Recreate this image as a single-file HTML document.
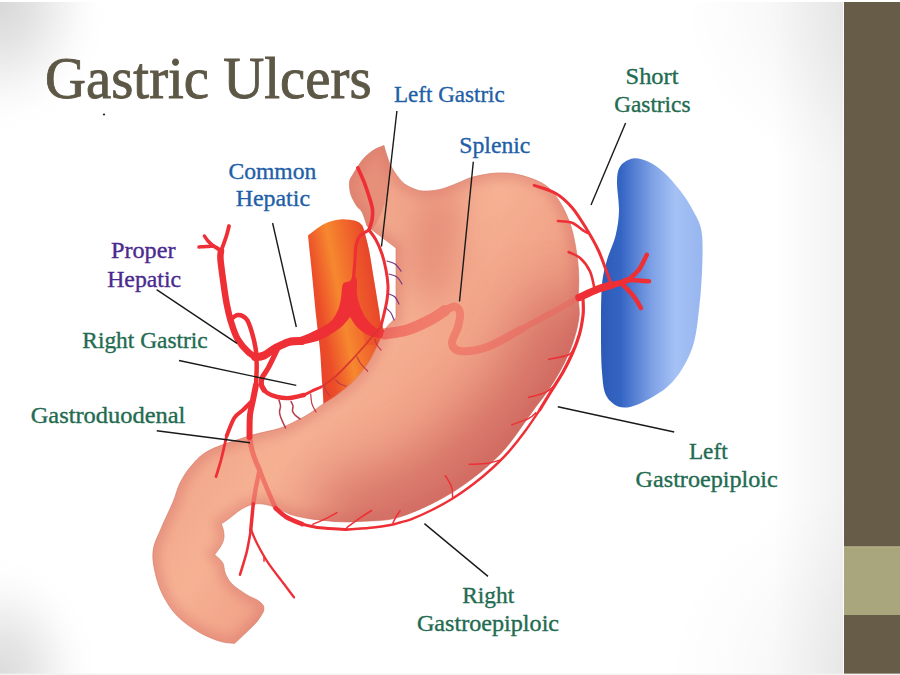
<!DOCTYPE html>
<html lang="en"><head><meta charset="utf-8"><title>Gastric Ulcers</title>
<style>
html,body{margin:0;padding:0;background:#fff;}
body{width:900px;height:675px;overflow:hidden;position:relative;font-family:"Liberation Serif",serif;}
svg{position:absolute;left:0;top:0;display:block;}
text{font-family:"Liberation Serif",serif;}
</style></head><body>
<svg width="900" height="675" viewBox="0 0 900 675">
<defs>
<radialGradient id="bgTL" gradientUnits="userSpaceOnUse" cx="0" cy="0" r="112" gradientTransform="translate(0 0) scale(1 1.2321) translate(-0 -0)"><stop offset="0" stop-color="#000" stop-opacity="0.157"/><stop offset="0.3" stop-color="#000" stop-opacity="0.11"/><stop offset="0.55" stop-color="#000" stop-opacity="0.055"/><stop offset="0.7" stop-color="#000" stop-opacity="0.024"/><stop offset="0.85" stop-color="#000" stop-opacity="0.005"/><stop offset="1" stop-color="#000" stop-opacity="0"/></radialGradient>
<radialGradient id="bgBL" gradientUnits="userSpaceOnUse" cx="0" cy="675" r="100" gradientTransform="translate(0 675) scale(1 1.2200) translate(-0 -675)"><stop offset="0" stop-color="#000" stop-opacity="0.14"/><stop offset="0.3" stop-color="#000" stop-opacity="0.1"/><stop offset="0.55" stop-color="#000" stop-opacity="0.05"/><stop offset="0.7" stop-color="#000" stop-opacity="0.022"/><stop offset="0.85" stop-color="#000" stop-opacity="0.005"/><stop offset="1" stop-color="#000" stop-opacity="0"/></radialGradient>
<radialGradient id="bgTR" gradientUnits="userSpaceOnUse" cx="900" cy="0" r="218" gradientTransform="translate(900 0) scale(1 0.8440) translate(-900 -0)"><stop offset="0" stop-color="#000" stop-opacity="0.095"/><stop offset="0.28" stop-color="#000" stop-opacity="0.055"/><stop offset="0.5" stop-color="#000" stop-opacity="0.038"/><stop offset="0.75" stop-color="#000" stop-opacity="0.015"/><stop offset="1" stop-color="#000" stop-opacity="0"/></radialGradient>
<radialGradient id="bgBR" gradientUnits="userSpaceOnUse" cx="900" cy="675" r="234" gradientTransform="translate(900 675) scale(1 0.8419) translate(-900 -675)"><stop offset="0" stop-color="#000" stop-opacity="0.08"/><stop offset="0.28" stop-color="#000" stop-opacity="0.045"/><stop offset="0.5" stop-color="#000" stop-opacity="0.03"/><stop offset="0.75" stop-color="#000" stop-opacity="0.012"/><stop offset="1" stop-color="#000" stop-opacity="0"/></radialGradient>
<linearGradient id="gst" gradientUnits="userSpaceOnUse" x1="330" y1="250" x2="580" y2="450">
<stop offset="0" stop-color="#F0A489"/><stop offset="0.3" stop-color="#F6B193"/><stop offset="0.52" stop-color="#F1A388"/><stop offset="0.78" stop-color="#E48A76"/><stop offset="1" stop-color="#DA766A"/>
</linearGradient>
<linearGradient id="gsp" gradientUnits="userSpaceOnUse" x1="600" y1="0" x2="705" y2="0">
<stop offset="0" stop-color="#2B59B6"/><stop offset="0.2" stop-color="#3565C4"/><stop offset="0.5" stop-color="#7FA2E6"/><stop offset="0.72" stop-color="#A5C1F5"/><stop offset="1" stop-color="#96B5EE"/>
</linearGradient>
<linearGradient id="gao" gradientUnits="userSpaceOnUse" x1="300" y1="300" x2="388" y2="283">
<stop offset="0.04" stop-color="#E8402A"/><stop offset="0.2" stop-color="#EC4E29"/><stop offset="0.44" stop-color="#F6882F"/><stop offset="0.7" stop-color="#EF602A"/><stop offset="0.86" stop-color="#E8472A"/>
</linearGradient>
<linearGradient id="gtr" gradientUnits="userSpaceOnUse" x1="240" y1="0" x2="580" y2="0">
<stop offset="0" stop-color="#EC3F40" stop-opacity="0.5"/><stop offset="0.42" stop-color="#EC3F40" stop-opacity="0.55"/><stop offset="0.62" stop-color="#EE4A48" stop-opacity="0.42"/><stop offset="1" stop-color="#F05A55" stop-opacity="0.34"/>
</linearGradient>
<linearGradient id="gsh" gradientUnits="userSpaceOnUse" x1="772" y1="0" x2="844" y2="0">
<stop offset="0" stop-color="#000" stop-opacity="0"/><stop offset="1" stop-color="#000" stop-opacity="0.05"/>
</linearGradient>
<clipPath id="cst"><path d="M384.0 145.5 C384.4 147.1 385.4 151.2 386.7 155.0 C388.0 158.8 389.4 163.6 392.0 168.0 C394.6 172.4 398.7 178.4 402.0 181.7 C405.3 185.0 408.5 186.4 412.0 188.0 C415.5 189.6 418.3 190.8 423.0 191.0 C427.7 191.2 434.2 190.7 440.0 189.4 C445.8 188.1 452.5 185.1 458.0 183.0 C463.5 180.9 466.5 178.7 473.0 177.0 C479.5 175.3 489.2 173.3 497.0 173.0 C504.8 172.7 512.0 173.0 520.0 175.0 C528.0 177.0 538.3 180.4 545.0 185.0 C551.7 189.6 556.0 195.8 560.3 202.7 C564.6 209.6 568.2 217.7 571.0 226.4 C573.8 235.1 575.6 246.1 576.9 254.8 C578.2 263.5 578.6 271.3 578.8 278.5 C579.0 285.7 578.2 291.8 578.3 298.0 C578.4 304.2 579.7 309.5 579.2 315.6 C578.7 321.7 577.1 328.2 575.4 334.5 C573.7 340.8 571.5 347.2 568.8 353.5 C566.1 359.8 562.9 366.2 559.3 372.5 C555.7 378.8 551.8 385.2 547.4 391.5 C543.0 397.8 539.7 401.5 533.2 410.4 C526.7 419.2 515.5 436.0 508.6 444.6 C501.7 453.2 497.9 456.7 492.0 462.2 C486.1 467.7 480.0 472.8 473.4 477.8 C466.8 482.8 459.5 488.0 452.6 492.3 C445.7 496.6 438.8 500.2 431.9 503.7 C425.0 507.1 417.9 510.4 411.0 513.0 C404.1 515.6 398.2 517.9 390.4 519.3 C382.6 520.7 372.8 520.8 364.4 521.2 C356.0 521.6 348.9 522.2 340.0 521.8 C331.1 521.4 318.8 520.0 311.0 518.9 C303.2 517.8 297.8 516.5 293.3 515.3 C288.8 514.1 287.3 512.9 284.0 511.5 C280.7 510.1 276.9 507.9 273.3 506.7 C269.8 505.4 266.2 504.4 262.7 504.0 C259.1 503.6 255.6 503.6 252.0 504.5 C248.4 505.4 244.9 507.2 241.3 509.3 C237.8 511.4 234.0 514.8 230.7 517.3 C227.4 519.8 222.9 522.9 221.3 524.0 C221.6 524.9 222.8 527.1 223.2 529.3 C223.6 531.5 224.3 534.6 224.0 537.3 C223.7 540.0 222.9 542.4 221.3 545.3 C219.8 548.2 215.8 553.1 214.7 554.7 C216.0 556.0 220.9 559.6 222.7 562.7 C224.5 565.8 223.8 569.8 225.3 573.3 C226.9 576.8 228.4 580.4 232.0 584.0 C235.6 587.6 242.4 592.0 246.7 594.7 C251.0 597.5 255.2 598.6 258.0 600.5 C260.8 602.4 262.6 604.2 263.5 606.0 C264.4 607.8 263.5 610.6 263.5 611.5 C262.5 613.1 260.1 617.9 257.3 621.3 C254.5 624.7 250.5 628.3 246.7 632.0 C242.9 635.7 236.5 641.6 234.5 643.5 C232.1 643.1 226.0 643.2 220.0 641.3 C214.0 639.4 205.8 636.2 198.7 632.0 C191.6 627.8 183.3 622.2 177.3 616.0 C171.3 609.8 166.5 602.2 162.7 594.7 C158.9 587.2 156.3 578.3 154.7 570.7 C153.1 563.1 152.2 556.4 153.3 549.3 C154.4 542.2 158.0 536.0 161.3 528.0 C164.6 520.0 170.2 508.8 173.3 501.3 C176.4 493.8 176.9 489.1 180.0 483.0 C183.1 476.9 187.0 470.5 192.0 465.0 C197.0 459.5 200.3 454.9 210.0 450.0 C219.7 445.1 238.5 439.4 250.0 435.8 C261.5 432.2 271.3 431.0 279.0 428.5 C286.7 426.0 290.8 423.6 296.0 421.0 C301.2 418.4 305.6 415.9 310.0 413.2 C314.4 410.4 318.1 407.4 322.4 404.5 C326.7 401.6 330.5 399.8 335.6 396.0 C340.7 392.2 347.7 387.1 353.0 381.8 C358.3 376.5 363.4 370.2 367.6 364.0 C371.8 357.8 375.3 349.7 378.0 344.4 C380.7 339.1 381.8 335.3 383.6 332.0 C385.4 328.7 386.9 326.8 389.0 324.5 C391.1 322.2 394.8 319.1 396.0 318.0 L396.0 248.0 L367.0 226.0 C366.2 223.7 363.7 215.3 362.0 212.0 C360.3 208.7 358.5 208.8 356.7 206.0 C354.9 203.2 352.2 198.5 351.0 195.0 C349.8 191.5 349.6 187.6 349.4 185.0 C349.2 182.4 349.9 180.3 350.0 179.4 C352.0 176.2 358.2 165.3 362.0 160.5 C365.8 155.7 369.3 153.0 373.0 150.5 C376.7 148.0 382.2 146.3 384.0 145.5Z"/></clipPath>
<filter id="blur12" filterUnits="userSpaceOnUse" x="100" y="100" width="560" height="580"><feGaussianBlur stdDeviation="27"/></filter>
<filter id="blur16" filterUnits="userSpaceOnUse" x="100" y="100" width="560" height="580"><feGaussianBlur stdDeviation="16"/></filter>
<filter id="blur5" filterUnits="userSpaceOnUse" x="100" y="100" width="560" height="580"><feGaussianBlur stdDeviation="5"/></filter>
</defs>
<rect x="0" y="0" width="900" height="675" fill="#ffffff"/>
<rect x="0" y="0" width="120" height="145" fill="url(#bgTL)"/>
<rect x="0" y="545" width="110" height="130" fill="url(#bgBL)"/>
<rect x="670" y="0" width="230" height="190" fill="url(#bgTR)"/>
<rect x="660" y="470" width="240" height="205" fill="url(#bgBR)"/>
<rect x="772" y="0" width="72" height="675" fill="url(#gsh)"/>
<rect x="0" y="0" width="900" height="2" fill="#ffffff"/>
<rect x="844" y="2" width="56" height="673" fill="#675C47"/>
<rect x="844" y="546.5" width="56" height="68.5" fill="#A9A67D"/>
<rect x="843" y="2" width="1" height="672" fill="#ffffff" opacity="0.85"/>
<rect x="844" y="546.5" width="56" height="1" fill="#B9B68F"/>
<rect x="0" y="673.6" width="900" height="1.4" fill="#f2f2f2"/>

<path d="M308.0 235.5 C310.7 233.6 318.7 226.7 324.0 224.0 C329.3 221.3 334.7 220.0 340.0 219.5 C345.3 219.0 352.3 220.1 356.0 221.0 C359.7 221.9 361.0 224.3 362.0 225.0 C362.3 225.8 362.8 225.8 364.0 230.0 C365.2 234.2 367.3 241.7 369.0 250.0 C370.7 258.3 372.3 270.0 374.0 280.0 C375.7 290.0 377.7 302.3 379.0 310.0 C380.3 317.7 379.8 320.2 382.0 326.0 C384.2 331.8 390.3 341.8 392.0 345.0 L380.0 420.0 L323.5 420.0 C323.5 416.8 323.6 407.5 323.3 401.0 C323.1 394.5 322.6 389.5 322.0 381.0 C321.4 372.5 320.9 360.3 320.0 350.0 C319.1 339.7 317.8 332.0 316.4 319.0 C315.0 306.0 313.2 285.9 311.8 272.0 C310.4 258.1 308.6 241.6 308.0 235.5Z" fill="url(#gao)"/>
<path d="M362.0 225.0 C362.3 225.8 362.8 225.8 364.0 230.0 C365.2 234.2 367.3 241.7 369.0 250.0 C370.7 258.3 372.3 270.0 374.0 280.0 C375.7 290.0 377.7 302.3 379.0 310.0 C380.3 317.7 379.8 320.2 382.0 326.0 C384.2 331.8 390.3 341.8 392.0 345.0 L366.0 345.0 C364.5 337.5 358.8 314.2 357.0 300.0 C355.2 285.8 354.2 272.5 355.0 260.0 C355.8 247.5 360.8 230.8 362.0 225.0Z" fill="#E8452A" opacity="0.35"/>
<path d="M633.0 158.5 C637.6 157.8 642.8 159.2 648.0 161.5 C653.2 163.8 658.6 167.6 664.0 172.5 C669.4 177.4 675.7 184.7 680.5 191.0 C685.3 197.3 689.5 203.8 693.0 210.5 C696.5 217.2 700.0 222.0 701.5 231.0 C703.0 240.0 702.6 252.0 702.3 264.5 C701.9 277.0 701.0 292.2 699.4 306.0 C697.8 319.8 696.7 335.0 692.4 347.4 C688.1 359.8 680.9 372.0 673.7 380.6 C666.5 389.2 657.3 394.5 649.0 399.0 C640.7 403.5 631.0 407.9 624.0 407.6 C617.0 407.3 610.7 402.9 607.0 397.0 C603.3 391.1 603.0 383.7 602.0 372.0 C601.0 360.3 601.0 341.2 601.0 326.7 C601.0 312.2 601.0 296.1 602.0 285.0 C603.0 273.9 604.7 268.3 607.0 260.0 C609.3 251.7 613.6 243.7 615.6 235.4 C617.6 227.2 618.8 219.5 619.0 210.5 C619.2 201.5 616.8 188.9 617.0 181.5 C617.2 174.1 617.8 169.8 620.5 166.0 C623.2 162.2 628.4 159.2 633.0 158.5Z" fill="url(#gsp)"/>
<path d="M384.0 145.5 C384.4 147.1 385.4 151.2 386.7 155.0 C388.0 158.8 389.4 163.6 392.0 168.0 C394.6 172.4 398.7 178.4 402.0 181.7 C405.3 185.0 408.5 186.4 412.0 188.0 C415.5 189.6 418.3 190.8 423.0 191.0 C427.7 191.2 434.2 190.7 440.0 189.4 C445.8 188.1 452.5 185.1 458.0 183.0 C463.5 180.9 466.5 178.7 473.0 177.0 C479.5 175.3 489.2 173.3 497.0 173.0 C504.8 172.7 512.0 173.0 520.0 175.0 C528.0 177.0 538.3 180.4 545.0 185.0 C551.7 189.6 556.0 195.8 560.3 202.7 C564.6 209.6 568.2 217.7 571.0 226.4 C573.8 235.1 575.6 246.1 576.9 254.8 C578.2 263.5 578.6 271.3 578.8 278.5 C579.0 285.7 578.2 291.8 578.3 298.0 C578.4 304.2 579.7 309.5 579.2 315.6 C578.7 321.7 577.1 328.2 575.4 334.5 C573.7 340.8 571.5 347.2 568.8 353.5 C566.1 359.8 562.9 366.2 559.3 372.5 C555.7 378.8 551.8 385.2 547.4 391.5 C543.0 397.8 539.7 401.5 533.2 410.4 C526.7 419.2 515.5 436.0 508.6 444.6 C501.7 453.2 497.9 456.7 492.0 462.2 C486.1 467.7 480.0 472.8 473.4 477.8 C466.8 482.8 459.5 488.0 452.6 492.3 C445.7 496.6 438.8 500.2 431.9 503.7 C425.0 507.1 417.9 510.4 411.0 513.0 C404.1 515.6 398.2 517.9 390.4 519.3 C382.6 520.7 372.8 520.8 364.4 521.2 C356.0 521.6 348.9 522.2 340.0 521.8 C331.1 521.4 318.8 520.0 311.0 518.9 C303.2 517.8 297.8 516.5 293.3 515.3 C288.8 514.1 287.3 512.9 284.0 511.5 C280.7 510.1 276.9 507.9 273.3 506.7 C269.8 505.4 266.2 504.4 262.7 504.0 C259.1 503.6 255.6 503.6 252.0 504.5 C248.4 505.4 244.9 507.2 241.3 509.3 C237.8 511.4 234.0 514.8 230.7 517.3 C227.4 519.8 222.9 522.9 221.3 524.0 C221.6 524.9 222.8 527.1 223.2 529.3 C223.6 531.5 224.3 534.6 224.0 537.3 C223.7 540.0 222.9 542.4 221.3 545.3 C219.8 548.2 215.8 553.1 214.7 554.7 C216.0 556.0 220.9 559.6 222.7 562.7 C224.5 565.8 223.8 569.8 225.3 573.3 C226.9 576.8 228.4 580.4 232.0 584.0 C235.6 587.6 242.4 592.0 246.7 594.7 C251.0 597.5 255.2 598.6 258.0 600.5 C260.8 602.4 262.6 604.2 263.5 606.0 C264.4 607.8 263.5 610.6 263.5 611.5 C262.5 613.1 260.1 617.9 257.3 621.3 C254.5 624.7 250.5 628.3 246.7 632.0 C242.9 635.7 236.5 641.6 234.5 643.5 C232.1 643.1 226.0 643.2 220.0 641.3 C214.0 639.4 205.8 636.2 198.7 632.0 C191.6 627.8 183.3 622.2 177.3 616.0 C171.3 609.8 166.5 602.2 162.7 594.7 C158.9 587.2 156.3 578.3 154.7 570.7 C153.1 563.1 152.2 556.4 153.3 549.3 C154.4 542.2 158.0 536.0 161.3 528.0 C164.6 520.0 170.2 508.8 173.3 501.3 C176.4 493.8 176.9 489.1 180.0 483.0 C183.1 476.9 187.0 470.5 192.0 465.0 C197.0 459.5 200.3 454.9 210.0 450.0 C219.7 445.1 238.5 439.4 250.0 435.8 C261.5 432.2 271.3 431.0 279.0 428.5 C286.7 426.0 290.8 423.6 296.0 421.0 C301.2 418.4 305.6 415.9 310.0 413.2 C314.4 410.4 318.1 407.4 322.4 404.5 C326.7 401.6 330.5 399.8 335.6 396.0 C340.7 392.2 347.7 387.1 353.0 381.8 C358.3 376.5 363.4 370.2 367.6 364.0 C371.8 357.8 375.3 349.7 378.0 344.4 C380.7 339.1 381.8 335.3 383.6 332.0 C385.4 328.7 386.9 326.8 389.0 324.5 C391.1 322.2 394.8 319.1 396.0 318.0 L396.0 248.0 L367.0 226.0 C366.2 223.7 363.7 215.3 362.0 212.0 C360.3 208.7 358.5 208.8 356.7 206.0 C354.9 203.2 352.2 198.5 351.0 195.0 C349.8 191.5 349.6 187.6 349.4 185.0 C349.2 182.4 349.9 180.3 350.0 179.4 C352.0 176.2 358.2 165.3 362.0 160.5 C365.8 155.7 369.3 153.0 373.0 150.5 C376.7 148.0 382.2 146.3 384.0 145.5Z" fill="url(#gst)"/>
<path d="M384.0 145.5 C384.4 147.1 385.4 151.2 386.7 155.0 C388.0 158.8 389.4 163.6 392.0 168.0 C394.6 172.4 398.7 178.4 402.0 181.7 C405.3 185.0 408.5 186.4 412.0 188.0 C415.5 189.6 418.3 190.8 423.0 191.0 C427.7 191.2 434.2 190.7 440.0 189.4 C445.8 188.1 452.5 185.1 458.0 183.0 C463.5 180.9 466.5 178.7 473.0 177.0 C479.5 175.3 489.2 173.3 497.0 173.0 C504.8 172.7 512.0 173.0 520.0 175.0 C528.0 177.0 538.3 180.4 545.0 185.0 C551.7 189.6 556.0 195.8 560.3 202.7 C564.6 209.6 568.2 217.7 571.0 226.4 C573.8 235.1 575.6 246.1 576.9 254.8 C578.2 263.5 578.6 271.3 578.8 278.5 C579.0 285.7 578.2 291.8 578.3 298.0 C578.4 304.2 579.7 309.5 579.2 315.6 C578.7 321.7 577.1 328.2 575.4 334.5 C573.7 340.8 571.5 347.2 568.8 353.5 C566.1 359.8 562.9 366.2 559.3 372.5 C555.7 378.8 551.8 385.2 547.4 391.5 C543.0 397.8 539.7 401.5 533.2 410.4 C526.7 419.2 515.5 436.0 508.6 444.6 C501.7 453.2 497.9 456.7 492.0 462.2 C486.1 467.7 480.0 472.8 473.4 477.8 C466.8 482.8 459.5 488.0 452.6 492.3 C445.7 496.6 438.8 500.2 431.9 503.7 C425.0 507.1 417.9 510.4 411.0 513.0 C404.1 515.6 398.2 517.9 390.4 519.3 C382.6 520.7 372.8 520.8 364.4 521.2 C356.0 521.6 348.9 522.2 340.0 521.8 C331.1 521.4 318.8 520.0 311.0 518.9 C303.2 517.8 297.8 516.5 293.3 515.3 C288.8 514.1 287.3 512.9 284.0 511.5 C280.7 510.1 276.9 507.9 273.3 506.7 C269.8 505.4 266.2 504.4 262.7 504.0 C259.1 503.6 255.6 503.6 252.0 504.5 C248.4 505.4 244.9 507.2 241.3 509.3 C237.8 511.4 234.0 514.8 230.7 517.3 C227.4 519.8 222.9 522.9 221.3 524.0 C221.6 524.9 222.8 527.1 223.2 529.3 C223.6 531.5 224.3 534.6 224.0 537.3 C223.7 540.0 222.9 542.4 221.3 545.3 C219.8 548.2 215.8 553.1 214.7 554.7 C216.0 556.0 220.9 559.6 222.7 562.7 C224.5 565.8 223.8 569.8 225.3 573.3 C226.9 576.8 228.4 580.4 232.0 584.0 C235.6 587.6 242.4 592.0 246.7 594.7 C251.0 597.5 255.2 598.6 258.0 600.5 C260.8 602.4 262.6 604.2 263.5 606.0 C264.4 607.8 263.5 610.6 263.5 611.5 C262.5 613.1 260.1 617.9 257.3 621.3 C254.5 624.7 250.5 628.3 246.7 632.0 C242.9 635.7 236.5 641.6 234.5 643.5 C232.1 643.1 226.0 643.2 220.0 641.3 C214.0 639.4 205.8 636.2 198.7 632.0 C191.6 627.8 183.3 622.2 177.3 616.0 C171.3 609.8 166.5 602.2 162.7 594.7 C158.9 587.2 156.3 578.3 154.7 570.7 C153.1 563.1 152.2 556.4 153.3 549.3 C154.4 542.2 158.0 536.0 161.3 528.0 C164.6 520.0 170.2 508.8 173.3 501.3 C176.4 493.8 176.9 489.1 180.0 483.0 C183.1 476.9 187.0 470.5 192.0 465.0 C197.0 459.5 200.3 454.9 210.0 450.0 C219.7 445.1 238.5 439.4 250.0 435.8 C261.5 432.2 271.3 431.0 279.0 428.5 C286.7 426.0 290.8 423.6 296.0 421.0 C301.2 418.4 305.6 415.9 310.0 413.2 C314.4 410.4 318.1 407.4 322.4 404.5 C326.7 401.6 330.5 399.8 335.6 396.0 C340.7 392.2 347.7 387.1 353.0 381.8 C358.3 376.5 363.4 370.2 367.6 364.0 C371.8 357.8 375.3 349.7 378.0 344.4 C380.7 339.1 381.8 335.3 383.6 332.0 C385.4 328.7 386.9 326.8 389.0 324.5 C391.1 322.2 394.8 319.1 396.0 318.0 L396.0 248.0 L367.0 226.0 C366.2 223.7 363.7 215.3 362.0 212.0 C360.3 208.7 358.5 208.8 356.7 206.0 C354.9 203.2 352.2 198.5 351.0 195.0 C349.8 191.5 349.6 187.6 349.4 185.0 C349.2 182.4 349.9 180.3 350.0 179.4 C352.0 176.2 358.2 165.3 362.0 160.5 C365.8 155.7 369.3 153.0 373.0 150.5 C376.7 148.0 382.2 146.3 384.0 145.5Z" fill="none" stroke="#D88874" stroke-width="1" opacity="0.7"/>
<g clip-path="url(#cst)">
<path d="M384.0 145.5 C384.4 147.1 385.4 151.2 386.7 155.0 C388.0 158.8 389.4 163.6 392.0 168.0 C394.6 172.4 398.7 178.4 402.0 181.7 C405.3 185.0 408.5 186.4 412.0 188.0 C415.5 189.6 418.3 190.8 423.0 191.0 C427.7 191.2 434.2 190.7 440.0 189.4 C445.8 188.1 452.5 185.1 458.0 183.0 C463.5 180.9 466.5 178.7 473.0 177.0 C479.5 175.3 489.2 173.3 497.0 173.0 C504.8 172.7 512.0 173.0 520.0 175.0 C528.0 177.0 538.3 180.4 545.0 185.0 C551.7 189.6 556.0 195.8 560.3 202.7 C564.6 209.6 568.2 217.7 571.0 226.4 C573.8 235.1 575.6 246.1 576.9 254.8 C578.2 263.5 578.6 271.3 578.8 278.5 C579.0 285.7 578.2 291.8 578.3 298.0 C578.4 304.2 579.7 309.5 579.2 315.6 C578.7 321.7 577.1 328.2 575.4 334.5 C573.7 340.8 571.5 347.2 568.8 353.5 C566.1 359.8 562.9 366.2 559.3 372.5 C555.7 378.8 551.8 385.2 547.4 391.5 C543.0 397.8 539.7 401.5 533.2 410.4 C526.7 419.2 515.5 436.0 508.6 444.6 C501.7 453.2 497.9 456.7 492.0 462.2 C486.1 467.7 480.0 472.8 473.4 477.8 C466.8 482.8 459.5 488.0 452.6 492.3 C445.7 496.6 438.8 500.2 431.9 503.7 C425.0 507.1 417.9 510.4 411.0 513.0 C404.1 515.6 398.2 517.9 390.4 519.3 C382.6 520.7 372.8 520.8 364.4 521.2 C356.0 521.6 348.9 522.2 340.0 521.8 C331.1 521.4 318.8 520.0 311.0 518.9 C303.2 517.8 297.8 516.5 293.3 515.3 C288.8 514.1 287.3 512.9 284.0 511.5 C280.7 510.1 276.9 507.9 273.3 506.7 C269.8 505.4 266.2 504.4 262.7 504.0 C259.1 503.6 255.6 503.6 252.0 504.5 C248.4 505.4 244.9 507.2 241.3 509.3 C237.8 511.4 234.0 514.8 230.7 517.3 C227.4 519.8 222.9 522.9 221.3 524.0 C221.6 524.9 222.8 527.1 223.2 529.3 C223.6 531.5 224.3 534.6 224.0 537.3 C223.7 540.0 222.9 542.4 221.3 545.3 C219.8 548.2 215.8 553.1 214.7 554.7 C216.0 556.0 220.9 559.6 222.7 562.7 C224.5 565.8 223.8 569.8 225.3 573.3 C226.9 576.8 228.4 580.4 232.0 584.0 C235.6 587.6 242.4 592.0 246.7 594.7 C251.0 597.5 255.2 598.6 258.0 600.5 C260.8 602.4 262.6 604.2 263.5 606.0 C264.4 607.8 263.5 610.6 263.5 611.5 C262.5 613.1 260.1 617.9 257.3 621.3 C254.5 624.7 250.5 628.3 246.7 632.0 C242.9 635.7 236.5 641.6 234.5 643.5 C232.1 643.1 226.0 643.2 220.0 641.3 C214.0 639.4 205.8 636.2 198.7 632.0 C191.6 627.8 183.3 622.2 177.3 616.0 C171.3 609.8 166.5 602.2 162.7 594.7 C158.9 587.2 156.3 578.3 154.7 570.7 C153.1 563.1 152.2 556.4 153.3 549.3 C154.4 542.2 158.0 536.0 161.3 528.0 C164.6 520.0 170.2 508.8 173.3 501.3 C176.4 493.8 176.9 489.1 180.0 483.0 C183.1 476.9 187.0 470.5 192.0 465.0 C197.0 459.5 200.3 454.9 210.0 450.0 C219.7 445.1 238.5 439.4 250.0 435.8 C261.5 432.2 271.3 431.0 279.0 428.5 C286.7 426.0 290.8 423.6 296.0 421.0 C301.2 418.4 305.6 415.9 310.0 413.2 C314.4 410.4 318.1 407.4 322.4 404.5 C326.7 401.6 330.5 399.8 335.6 396.0 C340.7 392.2 347.7 387.1 353.0 381.8 C358.3 376.5 363.4 370.2 367.6 364.0 C371.8 357.8 375.3 349.7 378.0 344.4 C380.7 339.1 381.8 335.3 383.6 332.0 C385.4 328.7 386.9 326.8 389.0 324.5 C391.1 322.2 394.8 319.1 396.0 318.0 L396.0 248.0 L367.0 226.0 C366.2 223.7 363.7 215.3 362.0 212.0 C360.3 208.7 358.5 208.8 356.7 206.0 C354.9 203.2 352.2 198.5 351.0 195.0 C349.8 191.5 349.6 187.6 349.4 185.0 C349.2 182.4 349.9 180.3 350.0 179.4 C352.0 176.2 358.2 165.3 362.0 160.5 C365.8 155.7 369.3 153.0 373.0 150.5 C376.7 148.0 382.2 146.3 384.0 145.5Z" fill="none" stroke="#D46A66" stroke-width="14" opacity="0.35" filter="url(#blur5)"/>
<path d="M580.0 300.0 C579.9 302.6 580.0 309.9 579.2 315.6 C578.4 321.4 577.1 328.2 575.4 334.5 C573.7 340.8 572.2 344.2 568.8 353.5 C565.4 362.8 561.1 378.4 555.0 390.0 C548.9 401.6 540.3 412.8 532.0 423.0 C523.7 433.2 515.2 441.5 505.0 451.0 C494.8 460.5 481.8 471.8 471.0 480.0 C460.2 488.2 450.7 494.2 440.0 500.0 C429.3 505.8 418.2 511.3 407.0 515.0 C395.8 518.7 384.2 520.7 373.0 522.0 C361.8 523.3 348.8 523.3 340.0 523.0 C331.2 522.7 323.3 520.5 320.0 520.0" fill="none" stroke="#C95E5A" stroke-width="100" opacity="0.62" filter="url(#blur12)"/>
<path d="M384.0 145.5 C384.7 147.6 387.1 153.1 388.0 158.0 C388.9 162.9 389.6 169.3 389.5 175.0 C389.4 180.7 388.7 186.5 387.6 192.0 C386.5 197.5 384.8 202.8 383.0 208.0 C381.2 213.2 378.5 219.5 376.7 223.0 C374.9 226.5 372.8 228.0 372.0 229.0 L367.0 226.0 C366.2 223.7 363.7 215.3 362.0 212.0 C360.3 208.7 358.5 208.8 356.7 206.0 C354.9 203.2 352.2 198.5 351.0 195.0 C349.8 191.5 349.6 187.6 349.4 185.0 C349.2 182.4 349.9 180.3 350.0 179.4 C352.0 176.2 358.2 165.3 362.0 160.5 C365.8 155.7 369.3 153.0 373.0 150.5 C376.7 148.0 382.2 146.3 384.0 145.5Z" fill="#DA7566" opacity="0.45"/>
<ellipse cx="436" cy="245" rx="26" ry="60" fill="#DC7868" opacity="0.55" filter="url(#blur16)" transform="rotate(8 436 245)"/>
</g>
<path d="M352.4 276.0 C352.0 276.8 351.6 279.7 350.0 281.0 C348.4 282.3 344.5 281.2 343.0 284.0 C341.5 286.8 341.8 293.7 341.0 298.0 C340.2 302.3 339.8 306.0 338.0 310.0 C336.2 314.0 334.3 318.3 330.0 322.0 C325.7 325.7 317.0 329.5 312.0 332.0 C307.0 334.5 302.0 336.2 300.0 337.0 L300.0 345.0 C303.3 344.2 313.3 342.8 320.0 340.0 C326.7 337.2 335.0 331.8 340.0 328.0 C345.0 324.2 348.3 318.8 350.0 317.0 C351.3 318.8 354.7 324.8 358.0 328.0 C361.3 331.2 366.0 334.3 370.0 336.0 C374.0 337.7 380.0 337.7 382.0 338.0 L384.0 330.0 C382.7 329.7 379.0 330.0 376.0 328.0 C373.0 326.0 368.7 321.7 366.0 318.0 C363.3 314.3 361.5 310.0 360.0 306.0 C358.5 302.0 357.5 298.2 357.0 294.0 C356.5 289.8 357.3 284.0 357.0 281.0 C356.7 278.0 355.3 276.8 355.0 276.0 L352.4 276.0Z" fill="#EE3036"/>
<g fill="none" stroke-linecap="round" stroke-linejoin="round">
<mask id="mtr" maskUnits="userSpaceOnUse" x="200" y="280" width="420" height="260"><g stroke="#fff" fill="none" stroke-linecap="round" stroke-linejoin="round">
<path d="M384.0 334.0 C387.8 333.3 399.3 332.3 407.0 330.0 C414.7 327.7 423.7 323.2 430.0 320.0 C436.3 316.8 442.5 312.1 445.0 310.5" stroke-width="11"/>
<path d="M445.0 310.5 C446.7 309.8 452.5 306.1 455.0 306.5 C457.5 306.9 459.5 309.6 460.0 313.0 C460.5 316.4 459.3 322.0 458.0 327.0 C456.7 332.0 451.7 339.0 452.0 343.0 C452.3 347.0 454.2 350.3 460.0 351.0 C465.8 351.7 477.0 350.5 487.0 347.0 C497.0 343.5 514.5 332.8 520.0 330.0" stroke-width="8"/>
<path d="M520.0 330.0 C525.5 327.0 543.2 317.4 553.0 312.0 C562.8 306.6 574.7 299.9 579.0 297.5" stroke-width="6"/>
<path d="M249.5 437.0 C249.9 439.2 250.9 445.8 252.0 450.0 C253.1 454.2 254.7 458.7 256.0 462.0 C257.3 465.3 259.0 468.7 259.6 470.0" stroke-width="5"/>
<path d="M259.6 470.0 C260.8 473.0 264.0 481.4 266.7 487.8 C269.4 494.2 274.1 504.8 275.6 508.2" stroke-width="4.6"/>
<path d="M259.6 470.0 C259.0 472.8 257.1 481.4 256.0 487.0 C254.9 492.6 253.8 501.0 253.3 503.8" stroke-width="4.4"/>
</g></mask>
<rect x="200" y="280" width="420" height="260" fill="url(#gtr)" mask="url(#mtr)"/>
<path d="M353.5 278.0 C353.6 277.0 353.8 275.0 354.0 272.0 C354.2 269.0 354.7 264.3 355.0 260.0 C355.3 255.7 355.2 250.0 356.0 246.0 C356.8 242.0 357.8 238.7 360.0 236.0 C362.2 233.3 367.5 231.0 369.0 230.0" stroke="#EE3036" stroke-width="3.2"/>
<path d="M369.0 230.0 C369.5 228.3 371.4 223.3 372.0 220.0 C372.6 216.7 372.8 213.4 372.5 210.0 C372.2 206.6 371.4 203.9 370.0 199.4 C368.6 194.9 366.4 188.1 364.4 182.8 C362.4 177.5 358.9 170.3 357.8 167.8" stroke="#EE3036" stroke-width="3.6"/>
<path d="M369.0 230.0 C370.2 231.7 373.8 236.0 376.0 240.0 C378.2 244.0 380.3 249.0 382.0 254.0 C383.7 259.0 385.0 264.7 386.0 270.0 C387.0 275.3 387.8 281.0 388.0 286.0 C388.2 291.0 387.7 295.3 387.0 300.0 C386.3 304.7 385.0 309.7 384.0 314.0 C383.0 318.3 381.5 324.0 381.0 326.0" stroke="#EE3036" stroke-width="3"/>
<path d="M381.8 326.7 C381.2 327.2 379.5 328.5 378.0 330.0 C376.5 331.5 375.0 333.2 373.0 335.6 C371.0 338.0 369.1 340.5 365.8 344.4 C362.5 348.2 358.0 353.4 353.0 358.7 C348.0 364.0 340.9 371.7 335.6 376.4 C330.3 381.1 323.4 385.2 321.0 387.0" stroke="#D8352C" stroke-width="1.6"/>
<path d="M321.0 387.0 C319.3 387.8 313.8 390.2 311.0 391.5 C308.2 392.8 305.2 394.4 304.0 395.0" stroke="#EE3036" stroke-width="3"/>
<path d="M304.0 395.0 C301.6 395.5 294.1 397.7 289.7 398.0 C285.2 398.3 281.1 397.9 277.3 397.0 C273.5 396.1 269.2 394.4 266.6 392.5 C264.0 390.6 262.4 386.6 261.6 385.4" stroke="#EE3036" stroke-width="4.4"/>
<path d="M302.0 341.0 C299.8 341.2 293.4 340.8 289.0 342.0 C284.6 343.2 279.7 345.8 275.5 348.0 C271.3 350.2 267.4 354.0 264.0 355.5 C260.6 357.0 256.5 356.8 255.0 357.0" stroke="#EE3036" stroke-width="8"/>
<path d="M264.0 355.5 C263.0 355.8 260.3 357.4 257.8 357.0 C255.3 356.6 252.3 355.7 249.0 352.8 C245.7 349.9 240.8 344.6 237.8 339.4 C234.8 334.2 232.8 327.6 231.0 321.7 C229.2 315.8 228.0 310.7 226.7 304.0 C225.4 297.3 224.3 289.1 223.3 281.7 C222.3 274.3 220.9 264.5 220.5 259.4 C220.1 254.3 220.9 252.4 221.0 251.0" stroke="#EE3036" stroke-width="6.5"/>
<path d="M221.0 251.0 C221.5 249.7 223.0 245.8 224.0 243.0 C225.0 240.2 226.2 236.8 227.0 234.0 C227.8 231.2 228.7 227.3 229.0 226.0" stroke="#EE3036" stroke-width="3.8"/>
<path d="M221.0 251.0 C220.3 250.5 218.3 248.8 217.0 248.0 C215.7 247.2 213.9 246.3 213.3 246.0" stroke="#EE3036" stroke-width="4"/>
<path d="M213.3 246.0 C212.4 245.2 209.5 242.7 208.0 241.0 C206.5 239.3 205.0 236.8 204.4 236.0" stroke="#EE3036" stroke-width="3.5"/>
<path d="M213.3 246.0 C212.1 246.1 208.4 246.3 206.0 246.5 C203.6 246.7 200.2 246.9 199.0 247.0" stroke="#EE3036" stroke-width="3.5"/>
<path d="M230.0 320.0 C231.3 319.2 235.0 315.1 237.8 315.0 C240.6 314.9 244.3 316.4 246.7 319.4 C249.1 322.4 250.5 328.0 252.0 332.8 C253.5 337.6 254.8 342.9 255.6 348.3 C256.4 353.7 256.6 358.9 256.7 365.0 C256.8 371.1 256.1 381.7 256.0 385.0" stroke="#EE3036" stroke-width="4.5"/>
<path d="M256.0 385.0 C255.5 387.5 254.0 395.0 253.0 400.0 C252.0 405.0 250.6 408.8 250.0 415.0 C249.4 421.2 249.6 433.3 249.5 437.0" stroke="#EE3036" stroke-width="6"/>
<path d="M277.0 350.0 C275.6 352.9 270.9 362.9 268.4 367.6 C265.9 372.3 263.1 375.0 262.0 378.0 C260.9 381.0 261.3 383.4 261.6 385.4 C261.9 387.4 263.6 389.2 264.0 390.0" stroke="#EE3036" stroke-width="5.2"/>
<path d="M251.0 402.0 C249.7 403.3 245.8 407.4 243.0 410.0 C240.2 412.6 237.1 413.5 234.4 417.8 C231.7 422.1 228.0 432.6 226.7 435.6" stroke="#EE3036" stroke-width="4"/>
<path d="M226.7 435.6 C225.8 439.7 222.8 453.1 221.0 460.0 C219.2 466.9 216.8 473.9 216.0 476.7" stroke="#EE3036" stroke-width="2.8"/>
<path d="M579.0 297.5 C582.2 296.1 592.7 291.1 598.2 289.0 C603.7 286.9 609.7 285.7 612.0 285.0" stroke="#EE3036" stroke-width="7.5"/>
<path d="M612.0 285.0 C613.2 284.7 616.9 284.0 619.5 283.2 C622.1 282.4 626.4 280.5 627.8 280.0" stroke="#EE3036" stroke-width="6"/>
<path d="M627.8 280.0 C629.6 278.4 635.3 274.4 638.5 270.2 C641.7 266.0 645.4 257.4 646.8 254.8" stroke="#EE3036" stroke-width="4.5"/>
<path d="M627.8 280.0 C629.5 280.1 634.5 280.3 638.0 280.5 C641.5 280.7 647.2 281.2 649.0 281.3" stroke="#EE3036" stroke-width="4.5"/>
<path d="M622.0 284.0 C624.0 286.1 630.6 292.3 633.7 296.3 C636.9 300.3 639.7 306.1 640.9 308.0" stroke="#EE3036" stroke-width="4.5"/>
<path d="M534.2 185.4 C537.8 186.7 549.2 189.5 555.5 193.2 C561.8 196.9 566.9 201.5 572.0 207.4 C577.1 213.3 582.0 221.6 586.4 228.7 C590.8 235.8 594.9 242.9 598.2 250.0 C601.6 257.1 604.3 265.7 606.5 271.4 C608.7 277.1 610.4 281.9 611.2 284.0" stroke="#EE3036" stroke-width="3"/>
<path d="M558.0 221.0 C560.3 221.3 567.7 221.1 572.0 222.8 C576.3 224.5 581.3 229.3 584.0 231.0 C586.7 232.7 587.3 232.7 588.0 233.0" stroke="#EE3036" stroke-width="2.6"/>
<path d="M568.6 252.0 C570.6 253.1 576.8 255.1 580.4 258.3 C584.0 261.5 587.6 266.3 590.0 271.4 C592.4 276.5 593.8 286.1 594.6 289.0" stroke="#EE3036" stroke-width="2.6"/>
<path d="M582.8 297.0 C582.9 298.5 583.3 302.9 583.3 306.0 C583.3 309.1 583.6 310.9 583.0 315.6 C582.4 320.4 581.2 328.2 579.4 334.5 C577.6 340.8 575.1 347.2 572.3 353.5 C569.5 359.8 566.3 366.2 562.8 372.5 C559.2 378.8 554.8 385.3 551.0 391.5 C547.2 397.7 541.8 406.5 540.0 409.5" stroke="#EE3036" stroke-width="3.2"/>
<path d="M540.0 409.5 C537.5 413.1 530.4 423.9 525.2 431.0 C520.0 438.1 514.1 445.6 508.6 451.9 C503.1 458.1 497.9 463.1 492.0 468.5 C486.1 473.9 480.0 479.0 473.4 484.0 C466.8 489.0 459.5 494.2 452.6 498.5 C445.7 502.8 438.8 506.5 431.9 510.0 C425.0 513.5 416.3 517.2 411.0 519.3 C405.7 521.4 403.4 521.5 400.0 522.5 C396.6 523.5 394.8 524.2 390.4 525.0 C385.9 525.8 380.6 526.7 373.3 527.5 C366.0 528.3 351.1 529.2 346.7 529.6" stroke="#EE3036" stroke-width="2.4"/>
<path d="M346.7 529.6 C342.2 529.3 327.4 528.7 320.0 527.8 C312.6 526.9 305.2 524.8 302.2 524.2" stroke="#EE3036" stroke-width="3"/>
<path d="M302.2 524.2 C299.5 523.0 290.6 519.7 286.2 517.0 C281.8 514.3 277.4 509.7 275.6 508.2" stroke="#EE3036" stroke-width="4.6"/>
<path d="M253.3 503.8 C253.1 506.0 252.4 512.5 252.0 517.0 C251.6 521.5 250.9 528.4 250.7 530.7" stroke="#EE3036" stroke-width="3.5"/>
<path d="M250.7 530.7 C250.0 534.2 248.5 544.7 246.7 552.0 C244.9 559.3 241.1 570.9 240.0 574.7" stroke="#EE3036" stroke-width="2.6"/>
<path d="M250.7 529.0 C251.8 531.5 254.4 538.4 257.3 544.0 C260.2 549.6 263.6 556.0 268.0 562.7 C272.4 569.4 279.7 578.2 284.0 584.0 C288.3 589.8 292.3 595.1 294.0 597.3" stroke="#EE3036" stroke-width="2.3"/>
<path d="M387.0 261.0 C388.3 261.5 392.7 262.3 395.0 264.0 C397.3 265.7 400.0 269.8 401.0 271.0" stroke="#7A3A80" stroke-width="1.2"/>
<path d="M389.0 274.0 C390.3 274.5 394.8 275.3 397.0 277.0 C399.2 278.7 401.2 282.8 402.0 284.0" stroke="#7A3A80" stroke-width="1.2"/>
<path d="M389.0 294.0 C390.0 294.5 393.3 295.3 395.0 297.0 C396.7 298.7 398.3 302.8 399.0 304.0" stroke="#7A3A80" stroke-width="1.2"/>
<path d="M386.0 308.0 C386.8 308.8 389.7 311.0 391.0 313.0 C392.3 315.0 393.5 318.8 394.0 320.0" stroke="#7A3A80" stroke-width="1.2"/>
<path d="M279.0 400.0 C279.2 401.0 280.4 404.0 280.5 406.0 C280.6 408.0 279.4 410.0 279.5 412.0 C279.6 414.0 280.0 415.3 281.0 418.0 C282.0 420.7 284.8 426.3 285.6 428.0" stroke="#B83A4C" stroke-width="1.5"/>
<path d="M291.0 401.5 C291.3 402.2 292.8 404.4 293.0 406.0 C293.2 407.6 292.2 409.5 292.5 411.0 C292.8 412.5 293.8 413.7 295.0 415.0 C296.2 416.3 299.2 418.3 300.0 419.0" stroke="#B83A4C" stroke-width="1.5"/>
<path d="M310.7 394.0 C310.9 395.7 311.1 401.0 312.0 404.0 C312.9 407.0 315.3 410.7 316.0 412.0" stroke="#C23A45" stroke-width="1.2"/>
<path d="M324.0 385.0 C324.3 386.0 325.0 389.2 326.0 391.0 C327.0 392.8 329.3 395.2 330.0 396.0" stroke="#C23A45" stroke-width="1.2"/>
<path d="M335.6 380.0 C336.3 380.7 338.3 383.0 340.0 384.0 C341.7 385.0 345.0 385.7 346.0 386.0" stroke="#C23A45" stroke-width="1.2"/>
<path d="M357.0 357.0 C357.7 358.2 359.2 361.7 361.0 364.0 C362.8 366.3 366.5 369.8 367.6 371.0" stroke="#C23A45" stroke-width="1.2"/>
<path d="M374.7 339.0 C375.1 340.0 375.9 343.2 377.0 345.0 C378.1 346.8 380.3 349.2 381.0 350.0" stroke="#C23A45" stroke-width="1.2"/>
<path d="M336.9 512.7 C335.0 513.7 329.3 517.0 325.3 518.9 C321.3 520.8 315.0 523.3 312.9 524.2" stroke="#EE3036" stroke-width="1.5"/>
<path d="M371.6 510.5 C369.2 512.0 361.5 516.9 357.3 519.8 C353.1 522.7 348.5 526.5 346.7 527.8" stroke="#EE3036" stroke-width="1.5"/>
<path d="M400.0 510.9 C399.3 511.9 397.2 515.0 396.0 517.0 C394.8 519.0 393.4 522.0 392.9 523.0" stroke="#EE3036" stroke-width="1.5"/>
<path d="M445.4 475.7 C446.4 477.6 450.4 483.4 451.6 487.0 C452.8 490.6 452.4 495.8 452.6 497.5" stroke="#EE3036" stroke-width="1.5"/>
<path d="M469.2 464.3 C472.3 464.1 482.9 464.0 487.9 463.3 C492.9 462.6 497.4 460.7 499.3 460.2" stroke="#EE3036" stroke-width="1.5"/>
<path d="M511.9 424.7 C514.7 423.7 524.5 420.7 528.5 418.7 C532.5 416.7 534.4 413.8 535.6 412.8" stroke="#EE3036" stroke-width="1.5"/>
<path d="M528.5 397.4 C531.2 396.6 540.9 394.4 545.0 392.6 C549.1 390.8 552.0 387.7 553.4 386.7" stroke="#EE3036" stroke-width="1.5"/>
<path d="M548.6 359.4 C552.0 358.6 564.6 356.5 568.8 354.7 C572.9 352.9 572.7 349.8 573.5 348.8" stroke="#EE3036" stroke-width="1.5"/>
<path d="M264.0 556.0 C264.0 556.9 264.0 560.4 264.0 561.3" stroke="#EE3036" stroke-width="1.5"/>
</g>
<g stroke="#1a1a1a" stroke-width="1.4" fill="none">
<line x1="396.9" y1="111.0" x2="381.5" y2="246.5"/>
<line x1="473.3" y1="161.7" x2="459.5" y2="301.5"/>
<line x1="625.6" y1="123.0" x2="591.0" y2="205.0"/>
<line x1="272.6" y1="223.0" x2="296.3" y2="327.0"/>
<line x1="156.6" y1="289.6" x2="237.0" y2="343.3"/>
<line x1="179.0" y1="360.5" x2="296.3" y2="385.4"/>
<line x1="156.7" y1="430.7" x2="250.0" y2="442.7"/>
<line x1="557.8" y1="406.7" x2="674.2" y2="432.0"/>
<line x1="424.4" y1="523.6" x2="488.0" y2="576.4"/>
</g>
<circle cx="104" cy="114.5" r="1.1" fill="#222"/>
<text x="45" y="98" font-size="59" fill="#5D5746" stroke="#5D5746" stroke-width="0.9" textLength="326.5" lengthAdjust="spacingAndGlyphs">Gastric Ulcers</text>
<text x="394.0" y="102.2" font-size="23" fill="#1F5FA8" stroke="#1F5FA8" stroke-width="0.35" textLength="110.7" lengthAdjust="spacingAndGlyphs">Left Gastric</text>
<text x="625.6" y="84.0" font-size="23" fill="#226B50" stroke="#226B50" stroke-width="0.35" textLength="52.9" lengthAdjust="spacingAndGlyphs">Short</text>
<text x="614.2" y="111.7" font-size="23" fill="#226B50" stroke="#226B50" stroke-width="0.35" textLength="76.3" lengthAdjust="spacingAndGlyphs">Gastrics</text>
<text x="459.3" y="153.2" font-size="23" fill="#1F5FA8" stroke="#1F5FA8" stroke-width="0.35" textLength="71.1" lengthAdjust="spacingAndGlyphs">Splenic</text>
<text x="228.4" y="178.8" font-size="23" fill="#1F5FA8" stroke="#1F5FA8" stroke-width="0.35" textLength="88.0" lengthAdjust="spacingAndGlyphs">Common</text>
<text x="235.7" y="205.9" font-size="23" fill="#1F5FA8" stroke="#1F5FA8" stroke-width="0.35" textLength="74.3" lengthAdjust="spacingAndGlyphs">Hepatic</text>
<text x="111.0" y="258.3" font-size="23" fill="#4A2A8F" stroke="#4A2A8F" stroke-width="0.35" textLength="64.5" lengthAdjust="spacingAndGlyphs">Proper</text>
<text x="107.2" y="286.6" font-size="23" fill="#4A2A8F" stroke="#4A2A8F" stroke-width="0.35" textLength="73.9" lengthAdjust="spacingAndGlyphs">Hepatic</text>
<text x="82.3" y="347.6" font-size="23" fill="#226B50" stroke="#226B50" stroke-width="0.35" textLength="125.4" lengthAdjust="spacingAndGlyphs">Right Gastric</text>
<text x="30.7" y="423.2" font-size="23" fill="#226B50" stroke="#226B50" stroke-width="0.35" textLength="154.7" lengthAdjust="spacingAndGlyphs">Gastroduodenal</text>
<text x="688.9" y="459.1" font-size="23" fill="#226B50" stroke="#226B50" stroke-width="0.35" textLength="38.7" lengthAdjust="spacingAndGlyphs">Left</text>
<text x="635.6" y="486.7" font-size="23" fill="#226B50" stroke="#226B50" stroke-width="0.35" textLength="142.2" lengthAdjust="spacingAndGlyphs">Gastroepiploic</text>
<text x="462.2" y="603.1" font-size="23" fill="#226B50" stroke="#226B50" stroke-width="0.35" textLength="52.0" lengthAdjust="spacingAndGlyphs">Right</text>
<text x="416.9" y="631.1" font-size="23" fill="#226B50" stroke="#226B50" stroke-width="0.35" textLength="142.2" lengthAdjust="spacingAndGlyphs">Gastroepiploic</text>
</svg></body></html>
